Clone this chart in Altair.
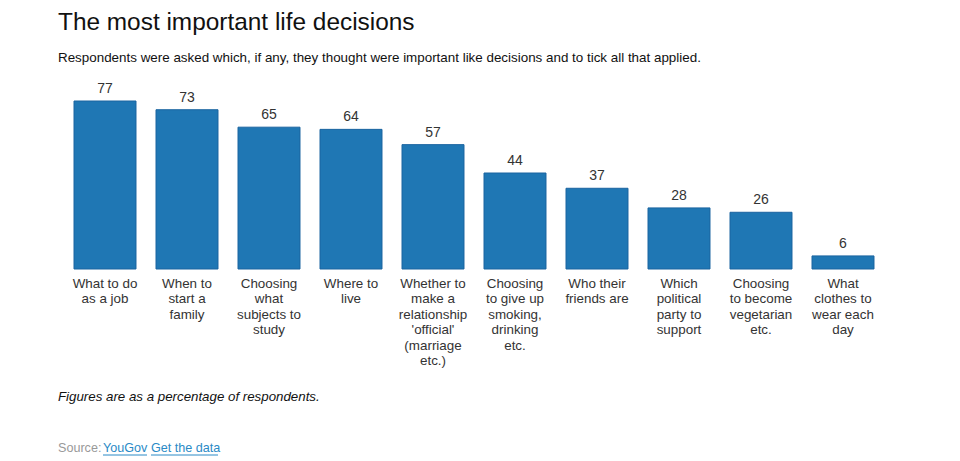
import altair as alt
import pandas as pd

categories = [
    "What to do\nas a job",
    "When to\nstart a\nfamily",
    "Choosing\nwhat\nsubjects to\nstudy",
    "Where to\nlive",
    "Whether to\nmake a\nrelationship\n'official'\n(marriage\netc.)",
    "Choosing\nto give up\nsmoking,\ndrinking\netc.",
    "Who their\nfriends are",
    "Which\npolitical\nparty to\nsupport",
    "Choosing\nto become\nvegetarian\netc.",
    "What\nclothes to\nwear each\nday",
]
values = [77, 73, 65, 64, 57, 44, 37, 28, 26, 6]

title_text = "The most important life decisions"
subtitle_text = "Respondents were asked which, if any, they thought were important like decisions and to tick all that applied."
note_text = "Figures are as a percentage of respondents."

df = pd.DataFrame({"decision": categories, "pct": values})
FONT = "Liberation Sans"

x_enc = alt.X(
    "decision:N",
    sort=categories,
    scale=alt.Scale(paddingInner=0.244, paddingOuter=0.122),
    axis=alt.Axis(
        title=None, labelAngle=0, labelExpr="split(datum.label, '\\n')",
        labelFont=FONT, labelFontSize=13.4, labelColor="#333333",
        labelLineHeight=15.5, labelPadding=7, ticks=False, domain=False,
        labelBaseline="top", labelLimit=200,
    ),
)
y_enc = alt.Y("pct:Q", scale=alt.Scale(domain=[0, 77], nice=False), axis=None)

base = alt.Chart(df)
bars = base.mark_bar(color="#1f77b4", stroke="#1a64a0", strokeWidth=1).encode(x=x_enc, y=y_enc)
labels = base.mark_text(baseline="bottom", dy=-5, font=FONT, fontSize=14, color="#333333").encode(
    x=x_enc, y=y_enc, text=alt.Text("pct:Q")
)

one = alt.Data(values=[{}])
note = alt.Chart(one).mark_text(
    align="left", baseline="middle", font=FONT, fontSize=13.3, fontStyle="italic", color="#111111"
).encode(x=alt.value(-6), y=alt.value(296), text=alt.value(note_text))
src = alt.Chart(one).mark_text(
    align="left", baseline="middle", font=FONT, fontSize=12.6, color="#999999"
).encode(x=alt.value(-6), y=alt.value(347), text=alt.value("Source:"))
link1 = alt.Chart(one).mark_text(
    align="left", baseline="middle", font=FONT, fontSize=12.6, color="#2a8ac6"
).encode(x=alt.value(39), y=alt.value(347), text=alt.value("YouGov"))
link2 = alt.Chart(one).mark_text(
    align="left", baseline="middle", font=FONT, fontSize=12.6, color="#2a8ac6"
).encode(x=alt.value(87), y=alt.value(347), text=alt.value("Get the data"))
ul1 = alt.Chart(one).mark_rule(color="#2a8ac6", strokeWidth=1).encode(
    x=alt.value(39), x2=alt.value(83), y=alt.value(354)
)
ul2 = alt.Chart(one).mark_rule(color="#2a8ac6", strokeWidth=1).encode(
    x=alt.value(87), x2=alt.value(154), y=alt.value(354)
)

chart = alt.layer(bars, labels, note, src, link1, link2, ul1, ul2).properties(
    width=820,
    height=168,
    padding={"left": 56, "right": 60, "top": 93, "bottom": 190},
    autosize=alt.AutoSizeParams(type="none"),
    title=alt.TitleParams(
        text=title_text, subtitle=subtitle_text, anchor="start", frame="group",
        font=FONT, fontSize=24.4, fontWeight="normal", color="#111111",
        subtitleFont=FONT, subtitleFontSize=13.4, subtitleColor="#111111",
        subtitlePadding=15, offset=17, dx=-6,
    ),
).configure(background="white").configure_view(stroke=None, strokeWidth=0)

chart.save("out.html", embed_options={"renderer": "svg", "actions": False})
